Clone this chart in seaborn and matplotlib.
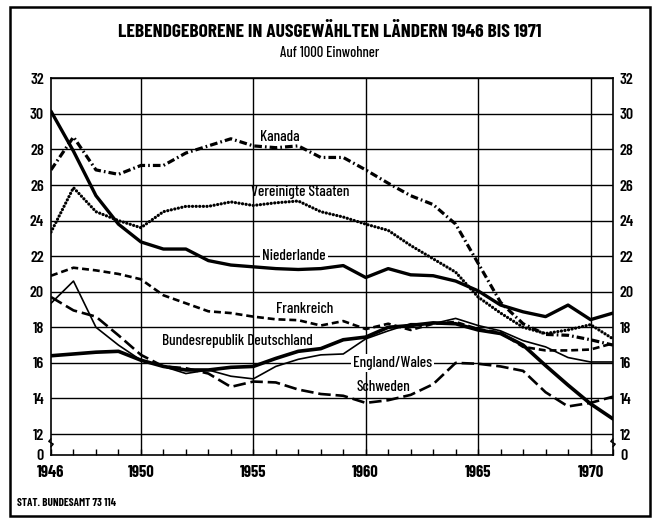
import matplotlib
matplotlib.use("Agg")
import matplotlib.pyplot as plt
from matplotlib import font_manager
from matplotlib.patches import Rectangle
import seaborn as sns
import pandas as pd

years = list(range(1946, 1972))

kanada = [26.85, 28.7, 26.85, 26.6, 27.1, 27.1, 27.8, 28.2, 28.6, 28.2, 28.1, 28.2, 27.55,
          27.55, 26.85, 26.1, 25.4, 24.9, 23.8, 21.6, 19.4, 18.2, 17.6, 17.55, 17.3, 17.0]
usa = [23.35, 25.85, 24.5, 24.0, 23.6, 24.5, 24.8, 24.8, 25.05, 24.85, 25.0, 25.1, 24.5,
       24.2, 23.8, 23.45, 22.6, 21.85, 21.1, 19.7, 18.8, 18.0, 17.65, 17.85, 18.15, 17.35]
niederlande = [30.15, 27.9, 25.4, 23.8, 22.8, 22.4, 22.4, 21.75, 21.5, 21.4, 21.3, 21.25, 21.3,
               21.47, 20.8, 21.3, 20.95, 20.9, 20.6, 20.05, 19.25, 18.87, 18.6, 19.25, 18.43, 18.8]
frankreich = [20.9, 21.35, 21.2, 21.0, 20.7, 19.8, 19.35, 18.9, 18.8, 18.6, 18.45, 18.4, 18.1,
              18.35, 17.9, 18.2, 17.85, 18.2, 18.3, 17.9, 17.7, 16.9, 16.7, 16.7, 16.75, 17.1]
brd = [16.4, 16.5, 16.6, 16.65, 16.15, 15.8, 15.6, 15.6, 15.75, 15.8, 16.25, 16.65, 16.8,
       17.3, 17.45, 18.0, 18.1, 18.25, 18.2, 17.85, 17.65, 17.0, 15.85, 14.75, 13.7, 12.85]
england = [19.35, 20.6, 18.0, 17.0, 16.15, 15.8, 15.4, 15.6, 15.25, 15.1, 15.8, 16.2, 16.45,
           16.5, 17.35, 17.8, 18.2, 18.2, 18.5, 18.1, 17.8, 17.25, 16.9, 16.3, 16.05, 16.05]
schweden = [19.7, 18.95, 18.6, 17.55, 16.45, 15.8, 15.7, 15.4, 14.65, 14.95, 14.9, 14.5, 14.25,
            14.15, 13.75, 13.9, 14.2, 14.8, 16.0, 15.95, 15.8, 15.55, 14.35, 13.55, 13.75, 14.1]

y_ticks = [12, 14, 16, 18, 20, 22, 24, 26, 28, 30, 32]
x_major = [1946, 1950, 1955, 1960, 1965, 1970]

title = "LEBENDGEBORENE IN AUSGEWÄHLTEN LÄNDERN 1946 BIS 1971"
subtitle = "Auf 1000 Einwohner"
source = "STAT. BUNDESAMT 73 114"

sns.set_theme(style="white")

names = {f.name for f in font_manager.fontManager.ttflist}
fam = "Barlow Condensed" if "Barlow Condensed" in names else (
    "Asap Condensed" if "Asap Condensed" in names else "DejaVu Sans")
plt.rcParams['font.family'] = [fam, 'DejaVu Sans']
plt.rcParams['lines.scale_dashes'] = False
for k in ('text.color', 'axes.labelcolor', 'xtick.color', 'ytick.color'):
    plt.rcParams[k] = 'black'

fig = plt.figure(figsize=(6.55, 5.2), dpi=100)
ax = fig.add_axes([51/655, 1-455/520, (613-51)/655, (455-78.3)/520])
ymin = 10.82
ax.set_xlim(1946, 1971)
ax.set_ylim(ymin, 32)

# grid
for v in y_ticks:
    ax.axhline(v, color='black', lw=1.0, zorder=1)
for yr in x_major[1:]:
    ax.axvline(yr, color='black', lw=1.0, zorder=1)

df = pd.DataFrame({"Jahr": years, "Kanada": kanada, "USA": usa, "NL": niederlande,
                   "F": frankreich, "BRD": brd, "EW": england, "S": schweden})

styles = {
    "Kanada": dict(lw=2.3, linestyle=(0, (5.5, 2.2, 1.2, 2.2))),
    "USA": dict(lw=2.3, linestyle=(0, (0.1, 2.5)), dash_capstyle='round'),
    "NL": dict(lw=2.4, linestyle='-'),
    "F": dict(lw=1.9, linestyle=(0, (5, 2.8))),
    "BRD": dict(lw=2.6, linestyle='-'),
    "EW": dict(lw=1.2, linestyle='-'),
    "S": dict(lw=1.9, linestyle=(0, (9, 3.5))),
}
for col, st in styles.items():
    sns.lineplot(data=df, x="Jahr", y=col, ax=ax, color='black', errorbar=None,
                 zorder=3, **st)

# labels
lab_kw = dict(fontsize=11, fontweight=500, color='black', ha='center', va='center', zorder=5)
ax.text(1956.2, 32 - (137-78.3)/17.8, "Kanada", **lab_kw)
ax.text(1957.1, 32 - (192-78.3)/17.8, "Vereinigte Staaten", **lab_kw)
ax.text(1956.8, 22.0, "Niederlande",
        bbox=dict(facecolor='white', edgecolor='none', pad=1.5), **lab_kw)
ax.text(1957.3, 32 - (309-78.3)/17.8, "Frankreich", **lab_kw)
ax.text(1954.3, 32 - (341-78.3)/17.8, "Bundesrepublik Deutschland", **lab_kw)
ax.text(1961.2, 16.0, "England/Wales",
        bbox=dict(facecolor='white', edgecolor='none', pad=1.5), **lab_kw)
ax.text(1960.8, 32 - (387-78.3)/17.8, "Schweden", **lab_kw)

# axes / ticks
ax.set_xlabel("")
ax.set_ylabel("")
ax.set_yticks([ymin] + y_ticks)
ax.set_yticklabels(["0"] + [str(v) for v in y_ticks], fontsize=11.5, fontweight=600)
ax.tick_params(axis='y', length=0, pad=5, labelright=True, right=False, left=False)
ax.set_xticks(x_major)
ax.set_xticklabels([str(y) for y in x_major], fontsize=12, fontweight=700)
ax.set_xticks(years, minor=True)
ax.tick_params(axis='x', which='both', direction='in', length=4, width=1, pad=7,
               bottom=True, top=False, colors='black')
for s in ax.spines.values():
    s.set_color('black')
    s.set_linewidth(1.2)
    s.set_visible(True)
ax.set_facecolor('white')

# axis break marks
for xa in (0, 1):
    bx = [xa, xa + 0.004, xa - 0.004, xa]
    by = [0.022, 0.029, 0.036, 0.043]
    ax.plot(bx, by, transform=ax.transAxes, color='black', lw=1.0, clip_on=False, zorder=6)

fig.text(330/655, 1-32/520, title, ha='center', va='center', fontsize=14, fontweight=700)
fig.text(330/655, 1-53/520, subtitle, ha='center', va='center', fontsize=10.5, fontweight=500)
fig.text(17/655, 1-503/520, source, ha='left', va='center', fontsize=8, fontweight=700)

fig.patches.append(Rectangle((10/655, 4/520), 640/655, 509/520, transform=fig.transFigure,
                             fill=False, edgecolor='black', lw=1.8))

fig.savefig("out.png", dpi=100, facecolor='white')
